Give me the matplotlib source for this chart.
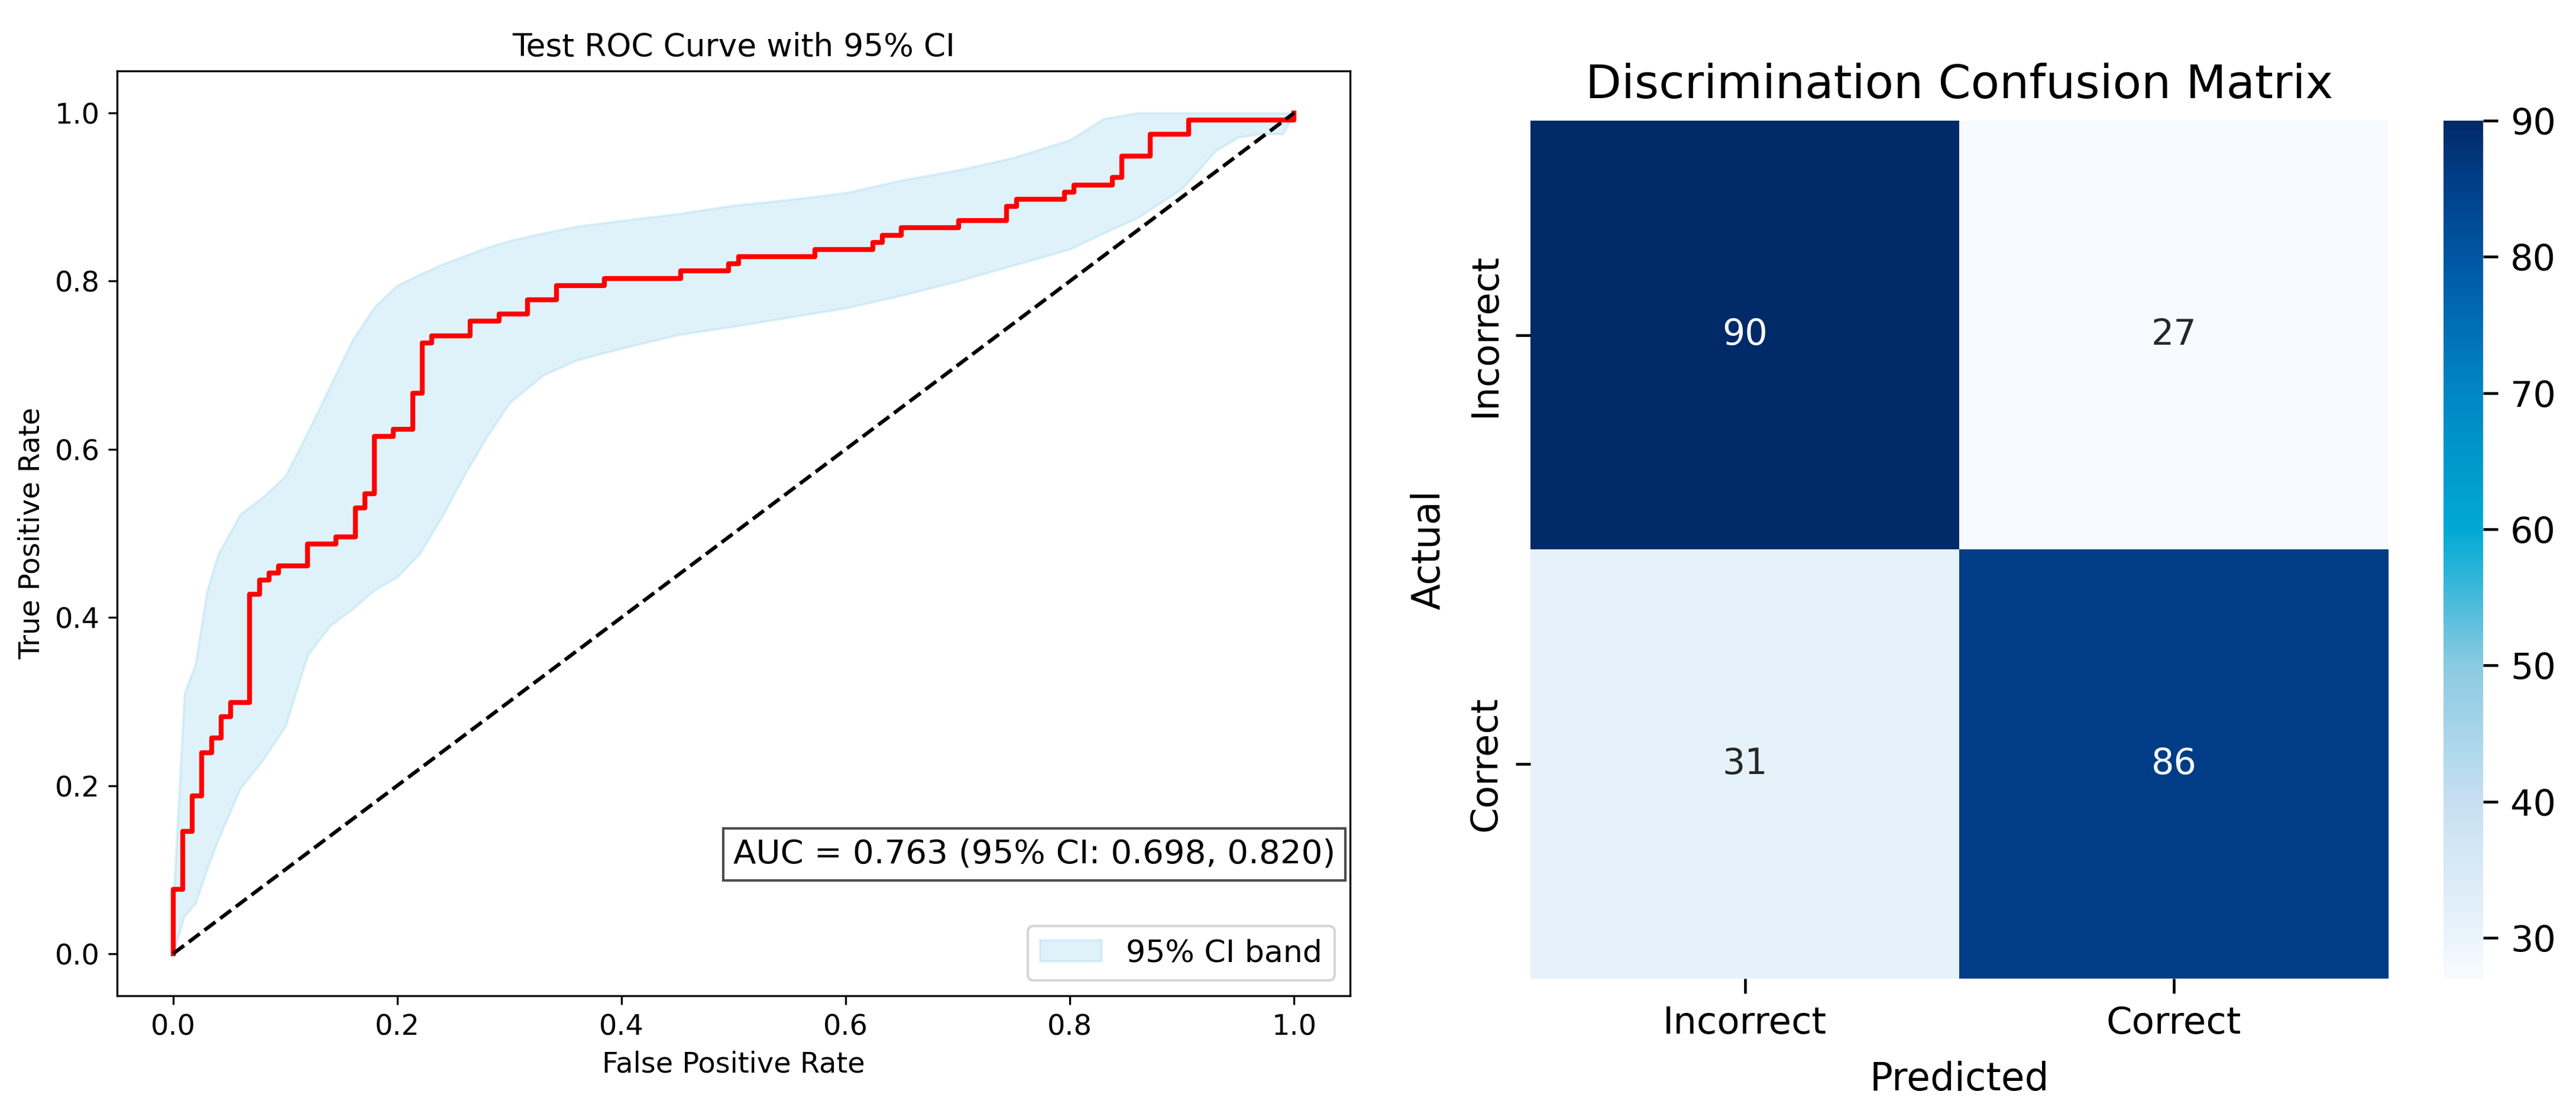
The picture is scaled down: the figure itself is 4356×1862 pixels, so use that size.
import numpy as np
import matplotlib
matplotlib.use('Agg')
import matplotlib.pyplot as plt
from matplotlib.colors import LinearSegmentedColormap
import seaborn as sns

# ROC data (counts out of 117 negatives / 117 positives)
n_neg = 117
n_pos = 117
step_fp = [0, 1, 2, 3, 4, 5, 6, 8, 9, 10, 11, 14, 17, 19, 20, 21, 23, 25, 26, 27,
           31, 34, 37, 40, 45, 53, 58, 59, 67, 73, 74, 76, 82, 87, 88, 93, 94, 98,
           99, 102, 106, 117]
step_tp = [9, 17, 22, 28, 30, 33, 35, 50, 52, 53, 54, 57, 58, 62, 64, 72, 73, 78, 85, 86,
           88, 89, 91, 93, 94, 95, 96, 97, 98, 99, 100, 101, 102, 104, 105, 106, 107, 108,
           111, 114, 116, 117]

# bootstrap CI band
band_fpr = [0, 0.0101, 0.02, 0.03, 0.04, 0.06, 0.08, 0.10, 0.12, 0.14, 0.16, 0.18, 0.20,
            0.22, 0.24, 0.26, 0.28, 0.30, 0.33, 0.36, 0.40, 0.45, 0.50, 0.55, 0.60, 0.65,
            0.70, 0.75, 0.80, 0.83, 0.86, 0.90, 0.93, 0.95, 0.97, 0.99, 1.0]
band_upper = [0.06, 0.31, 0.345, 0.43, 0.475, 0.523, 0.543, 0.568, 0.62, 0.675, 0.73, 0.77,
              0.795, 0.808, 0.82, 0.83, 0.84, 0.848, 0.857, 0.865, 0.872, 0.88, 0.89, 0.897,
              0.905, 0.92, 0.932, 0.947, 0.968, 0.993, 1.0, 1.0, 1.0, 1.0, 1.0, 1.0, 1.0]
band_lower = [0.0, 0.045, 0.06, 0.10, 0.135, 0.197, 0.23, 0.27, 0.355, 0.39, 0.41, 0.433,
              0.448, 0.476, 0.52, 0.57, 0.615, 0.655, 0.688, 0.706, 0.72, 0.736, 0.746, 0.757,
              0.768, 0.783, 0.80, 0.819, 0.838, 0.857, 0.875, 0.91, 0.955, 0.971, 0.975,
              0.975, 1.0]

auc = 0.763
auc_lo = 0.698
auc_hi = 0.820

# confusion matrix
cm = np.array([[90, 27], [31, 86]])
class_names = ['Incorrect', 'Correct']

# colour scale as it appears in the picture (value, colour)
cmap_stops = [(27, '#f7fbff'), (31, '#e6f2fa'), (40, '#c6dff1'), (50, '#8acae2'),
              (60, '#00a9d4'), (70, '#0087c3'), (80, '#0056a3'), (86, '#003d86'),
              (90, '#002a68')]

vmin, vmax = cmap_stops[0][0], cmap_stops[-1][0]
cmap = LinearSegmentedColormap.from_list(
    'ref_blues', [((v - vmin) / (vmax - vmin), c) for v, c in cmap_stops])

fig = plt.figure(figsize=(14.52, 6.2067), dpi=300)

# ---- left: ROC ----
ax = fig.add_axes([0.04545, 0.0956, 0.4787, 0.840])
fpr = np.r_[0, step_fp] / n_neg
tpr = np.r_[0, step_tp] / n_pos
ax.fill_between(band_fpr, band_lower, band_upper, color='skyblue', alpha=0.25,
                label='95% CI band')
ax.step(fpr, tpr, where='post', color='red', lw=2.0)
ax.plot([0, 1], [0, 1], 'k--', lw=1.5)
ax.set_xlabel('False Positive Rate', fontsize=11.5)
ax.set_ylabel('True Positive Rate', fontsize=11.5)
ax.set_title('Test ROC Curve with 95% CI', fontsize=12.8)
ax.tick_params(labelsize=11.5)
ax.text(0.988, 0.153, 'AUC = %.3f (95%% CI: %.3f, %.3f)' % (auc, auc_lo, auc_hi),
        transform=ax.transAxes, ha='right', va='center', fontsize=13.5,
        bbox=dict(facecolor='white', alpha=0.7))
ax.legend(loc='lower right', fontsize=12.5)

# ---- right: confusion matrix ----
ax2 = fig.add_axes([0.5941, 0.1112, 0.3331, 0.7793])
cax = fig.add_axes([0.9486, 0.1112, 0.01538, 0.7793])
sns.heatmap(cm, annot=True, fmt='d', cmap=cmap, vmin=vmin, vmax=vmax, ax=ax2, cbar_ax=cax,
            xticklabels=class_names, yticklabels=class_names,
            annot_kws={'size': 14.5})
ax2.set_title('Discrimination Confusion Matrix', fontsize=19, pad=9)
ax2.set_xlabel('Predicted', fontsize=15.5, labelpad=8)
ax2.set_ylabel('Actual', fontsize=15.5, labelpad=8)
ax2.tick_params(labelsize=15, length=6, width=1.1, pad=5)
plt.setp(ax2.get_yticklabels(), rotation=90, va='center')
cax.tick_params(labelsize=14.5, length=6, width=1.1, pad=5)

fig.savefig('out.png', dpi=300)
